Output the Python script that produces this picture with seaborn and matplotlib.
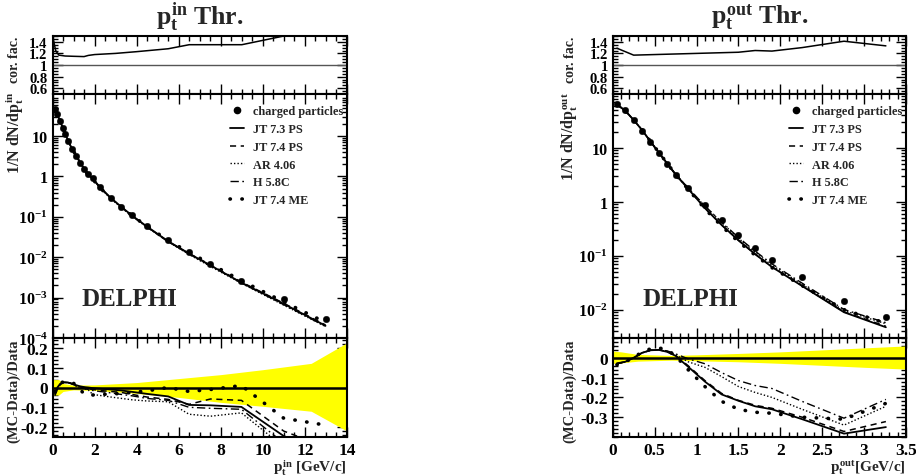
import numpy as np
import pandas as pd
import matplotlib
matplotlib.use("Agg")
import matplotlib.pyplot as plt
import seaborn as sns
from matplotlib.lines import Line2D
from matplotlib.ticker import MultipleLocator, FixedLocator, LogLocator, NullFormatter, FixedFormatter

# ---------------- p_t^in panel ----------------
pin_x = [0.12, 0.23, 0.36, 0.48, 0.61, 0.74, 0.91, 1.12, 1.31, 1.51, 1.70, 1.91,
         2.25, 2.76, 3.27, 3.78, 4.48, 5.50, 6.49, 7.51, 8.98, 10.99, 12.98]
pin_data = [48, 35, 23, 16, 11, 7.6, 4.9, 3.3, 2.2, 1.55, 1.12, 0.89,
            0.55, 0.30, 0.18, 0.11, 0.060, 0.026, 0.0135, 0.0069, 0.0026, 0.00093, 0.0003]
pin_r_jt73 = [-0.03, 0.0, 0.018, 0.025, 0.026, 0.025, 0.02, 0.012, 0.006, 0.002, 0.0, -0.003,
              -0.006, -0.01, -0.015, -0.022, -0.032, -0.045, -0.088, -0.09, -0.098, -0.245, -0.33]
pin_r_jt74 = [-0.035, -0.005, 0.015, 0.024, 0.027, 0.026, 0.02, 0.01, 0.004, 0.0, -0.005, -0.01,
              -0.015, -0.02, -0.025, -0.035, -0.048, -0.06, -0.085, -0.058, -0.065, -0.22, -0.30]
pin_r_ar = [-0.04, -0.01, 0.012, 0.022, 0.025, 0.024, 0.018, 0.008, 0.0, -0.006, -0.012, -0.035,
            -0.04, -0.048, -0.055, -0.062, -0.068, -0.072, -0.135, -0.145, -0.128, -0.30, -0.36]
pin_r_h = [-0.04, -0.008, 0.014, 0.023, 0.026, 0.025, 0.018, 0.008, 0.002, -0.004, -0.01, -0.015,
           -0.02, -0.027, -0.035, -0.042, -0.055, -0.065, -0.10, -0.105, -0.11, -0.28, -0.35]
pin_r_me = [-0.02, 0.005, 0.02, 0.027, 0.03, 0.03, 0.025, 0.015, -0.01, -0.033, -0.036, -0.038,
            -0.035, -0.033, -0.03, -0.025, -0.017, 0.0, -0.02, -0.01, 0.01, -0.155, -0.19]
pin_band_x = [0.0, 0.3, 0.5, 1.0, 2.0, 4.0, 6.0, 8.0, 10.0, 12.3, 14.0]
pin_band_hi = [0.04, 0.04, 0.02, 0.012, 0.013, 0.025, 0.045, 0.065, 0.09, 0.122, 0.226]
pin_band_lo = [-0.038, -0.038, -0.02, -0.012, -0.015, -0.03, -0.05, -0.075, -0.095, -0.12, -0.22]
pin_cor_x = [0.05, 0.15, 0.3, 0.6, 1.0, 1.5, 1.7, 2.0, 3.0, 4.0, 5.5, 6.5, 7.5, 9.0, 11.0, 13.0]
pin_cor = [1.42, 1.25, 1.17, 1.155, 1.15, 1.145, 1.165, 1.18, 1.2, 1.23, 1.28, 1.35, 1.35, 1.35, 1.5, 1.6]

# ---------------- p_t^out panel ----------------
pout_x = [0.05, 0.15, 0.25, 0.35, 0.45, 0.55, 0.65, 0.75, 0.90, 1.10, 1.30, 1.50,
          1.70, 1.90, 2.26, 2.76, 3.26]
pout_data = [66, 50, 33, 21, 12.7, 7.9, 5.0, 3.2, 1.83, 0.87, 0.457, 0.248,
             0.142, 0.084, 0.040, 0.0146, 0.0073]
pout_r_jt73 = [-0.028, -0.02, 0.0, 0.025, 0.038, 0.04, 0.03, 0.01, -0.045, -0.12, -0.185, -0.217,
               -0.245, -0.26, -0.31, -0.383, -0.35]
pout_r_jt74 = [-0.03, -0.02, 0.0, 0.025, 0.038, 0.04, 0.032, 0.012, -0.04, -0.115, -0.18, -0.215,
               -0.24, -0.255, -0.30, -0.372, -0.322]
pout_r_ar = [-0.03, -0.02, 0.0, 0.025, 0.038, 0.04, 0.032, 0.015, -0.02, -0.048, -0.095, -0.145,
             -0.175, -0.20, -0.26, -0.34, -0.245]
pout_r_h = [-0.03, -0.02, 0.0, 0.025, 0.038, 0.04, 0.035, 0.02, -0.005, -0.03, -0.075, -0.115,
            -0.14, -0.155, -0.22, -0.305, -0.21]
pout_r_me = [-0.035, -0.02, 0.0, 0.03, 0.045, 0.05, 0.04, 0.01, -0.06, -0.145, -0.22, -0.26,
             -0.275, -0.28, -0.30, -0.31, -0.23]
pout_band_x = [0.0, 0.1, 0.3, 0.7, 1.0, 1.5, 2.0, 2.5, 3.0, 3.5]
pout_band_hi = [0.034, 0.03, 0.017, 0.012, 0.015, 0.022, 0.03, 0.04, 0.05, 0.06]
pout_band_lo = [-0.028, -0.026, -0.017, -0.012, -0.015, -0.02, -0.028, -0.038, -0.048, -0.057]
pout_cor_x = [0.05, 0.25, 0.5, 1.0, 1.5, 1.7, 1.9, 2.26, 2.76, 3.26]
pout_cor = [1.29, 1.17, 1.18, 1.2, 1.22, 1.25, 1.24, 1.30, 1.41, 1.33]

gen_labels = ["JT 7.3 PS", "JT 7.4 PS", "AR 4.06", "H 5.8C", "JT 7.4 ME"]
gen_styles = [dict(linestyle="-", linewidth=1.3),
              dict(linestyle=(0, (4, 3)), linewidth=1.1),
              dict(linestyle=(0, (1, 1.5)), linewidth=1.0),
              dict(linestyle=(0, (6, 2.5, 1.2, 2.5)), linewidth=1.0),
              dict(linestyle=(0, (0.1, 3.2)), linewidth=2.6, dash_capstyle="round")]

sns.set_style("ticks")
plt.rcParams.update({
    "font.family": ["Liberation Serif", "DejaVu Serif"],
    "font.weight": "bold",
    "axes.labelweight": "bold",
    "mathtext.fontset": "custom",
    "mathtext.rm": "Liberation Serif:bold",
    "mathtext.it": "Liberation Serif:bold",
    "mathtext.bf": "Liberation Serif:bold",
    "axes.linewidth": 1.5,
    "axes.edgecolor": "black",
})

W, H = 916, 477
fig = plt.figure(figsize=(W / 100, H / 100), dpi=100)


def box(x0, x1, y0, y1):
    return [x0 / W, 1 - y1 / H, (x1 - x0) / W, (y1 - y0) / H]


def style_ticks(ax, size):
    ax.tick_params(which="both", direction="in", top=True, right=True, colors="black",
                   labelsize=size, width=1.0)
    ax.tick_params(which="major", length=7)
    ax.tick_params(which="minor", length=3.5)
    for lab in ax.get_xticklabels() + ax.get_yticklabels():
        lab.set_fontweight("bold")


def make_side(xl, xr, xs, data, ratios, band_x, band_lo, band_hi, cor_x, cor,
              xmax, xmajor, xminor, ylog_lim, logticks, loglabels, rlim, rticks, rlabels):
    # --- correction factor panel
    a1 = fig.add_axes(box(xl, xr, 37, 95))
    sns.lineplot(x=cor_x, y=cor, ax=a1, color="black", linewidth=1.1, estimator=None, sort=False)
    a1.axhline(1.0, color="#555555", linewidth=1.0)
    a1.set_xlim(0, xmax)
    a1.set_ylim(0.5, 1.5)
    a1.yaxis.set_major_locator(FixedLocator([0.6, 0.8, 1.0, 1.2, 1.4]))
    a1.yaxis.set_major_formatter(FixedFormatter(["0.6", "0.8", "1", "1.2", "1.4"]))
    a1.yaxis.set_minor_locator(MultipleLocator(0.05))
    a1.xaxis.set_major_locator(MultipleLocator(xmajor))
    a1.xaxis.set_minor_locator(MultipleLocator(xminor))
    a1.xaxis.set_major_formatter(NullFormatter())
    a1.set_xlabel("")
    a1.set_ylabel("")
    style_ticks(a1, 10.5)

    # --- spectrum panel
    a2 = fig.add_axes(box(xl, xr, 95, 339))
    for r, lab, st in zip(ratios, gen_labels, gen_styles):
        mc = [d * (1 + v) for d, v in zip(data, r)]
        sns.lineplot(x=xs, y=mc, ax=a2, color="black", estimator=None, sort=False, **st)
    sns.scatterplot(x=xs, y=data, ax=a2, color="black", s=22, edgecolor="black",
                    linewidth=0.3, zorder=5)
    a2.set_yscale("log")
    a2.set_xlim(0, xmax)
    a2.set_ylim(*ylog_lim)
    a2.yaxis.set_major_locator(FixedLocator(logticks))
    a2.yaxis.set_major_formatter(FixedFormatter(loglabels))
    a2.yaxis.set_minor_locator(LogLocator(base=10, subs=np.arange(2, 10)))
    a2.yaxis.set_minor_formatter(NullFormatter())
    a2.xaxis.set_major_locator(MultipleLocator(xmajor))
    a2.xaxis.set_minor_locator(MultipleLocator(xminor))
    a2.xaxis.set_major_formatter(NullFormatter())
    a2.set_xlabel("")
    a2.set_ylabel("")
    style_ticks(a2, 11.5)
    handles = [Line2D([], [], color="black", marker="o", linestyle="none", markersize=4.5)]
    handles += [Line2D([], [], color="black", **st) for st in gen_styles]
    leg = a2.legend(handles, ["charged particles"] + gen_labels, loc="upper right",
                    bbox_to_anchor=(1.0, 0.968), frameon=False, fontsize=8.8,
                    handlelength=1.1, handletextpad=0.75, labelspacing=0.47,
                    borderaxespad=0.1, borderpad=0.2)
    for t in leg.get_texts():
        t.set_fontweight("bold")
    a2.text(0.1, 0.16, "DELPHI", transform=a2.transAxes, fontsize=18,
            fontweight="bold", ha="left", va="center")

    # --- ratio panel
    a3 = fig.add_axes(box(xl, xr, 339, 438))
    a3.fill_between(band_x, band_lo, band_hi, color="#ffff00", linewidth=0, zorder=1)
    for r, st in zip(ratios, gen_styles):
        sns.lineplot(x=xs, y=r, ax=a3, color="black", estimator=None, sort=False, **st)
    a3.axhline(0.0, color="black", linewidth=1.8, zorder=4)
    a3.set_xlim(0, xmax)
    a3.set_ylim(*rlim)
    a3.yaxis.set_major_locator(FixedLocator(rticks))
    a3.yaxis.set_major_formatter(FixedFormatter(rlabels))
    a3.yaxis.set_minor_locator(MultipleLocator(0.02))
    a3.xaxis.set_major_locator(MultipleLocator(xmajor))
    a3.xaxis.set_minor_locator(MultipleLocator(xminor))
    a3.set_xlabel("")
    a3.set_ylabel("")
    style_ticks(a3, 12.5)
    return a1, a2, a3


l1, l2, l3 = make_side(52.5, 347, pin_x, pin_data,
                       [pin_r_jt73, pin_r_jt74, pin_r_ar, pin_r_h, pin_r_me],
                       pin_band_x, pin_band_lo, pin_band_hi, pin_cor_x, pin_cor,
                       14, 2, 0.5, (1e-4, 110),
                       [1e-4, 1e-3, 1e-2, 1e-1, 1, 10],
                       ["$10^{-4}$", "$10^{-3}$", "$10^{-2}$", "$10^{-1}$", "1", "10"],
                       (-0.25, 0.25), [-0.2, -0.1, 0, 0.1, 0.2],
                       ["-0.2", "-0.1", "0", "0.1", "0.2"])
l3.xaxis.set_major_locator(FixedLocator(list(range(0, 16, 2))))
l3.xaxis.set_major_formatter(FixedFormatter([str(v) for v in range(0, 16, 2)]))

r1, r2, r3 = make_side(612.7, 906, pout_x, pout_data,
                       [pout_r_jt73, pout_r_jt74, pout_r_ar, pout_r_h, pout_r_me],
                       pout_band_x, pout_band_lo, pout_band_hi, pout_cor_x, pout_cor,
                       3.5, 0.5, 0.1, (3e-3, 100),
                       [1e-2, 1e-1, 1, 10],
                       ["$10^{-2}$", "$10^{-1}$", "1", "10"],
                       (-0.4, 0.1), [-0.3, -0.2, -0.1, 0.0],
                       ["-0.3", "-0.2", "-0.1", "0"])
r3.xaxis.set_major_locator(FixedLocator([0, 0.5, 1, 1.5, 2, 2.5, 3, 3.5]))
r3.xaxis.set_major_formatter(FixedFormatter(["0", "0.5", "1", "1.5", "2", "2.5", "3", "3.5"]))
for a in (l3, r3):
    for lab in a.get_xticklabels() + a.get_yticklabels():
        lab.set_fontweight("bold")

# titles
fig.text(200 / W, 1 - 17 / H, r"$p_t^{in}$ Thr.", fontsize=18.5, fontweight="bold",
         ha="center", va="center")
fig.text(760 / W, 1 - 17 / H, r"$p_t^{out}$ Thr.", fontsize=18.5, fontweight="bold",
         ha="center", va="center")

# y-axis titles
for xc, sup in ((14, "in"), (570, "out")):
    fig.text(xc / W, 1 - 37 / H, "cor. fac.", rotation=90, fontsize=10,
             fontweight="bold", ha="center", va="top")
    fig.text(xc / W, 1 - 92 / H, "1/N dN/d$p_t^{%s}$" % sup, rotation=90, fontsize=11.5,
             fontweight="bold", ha="center", va="top")
    fig.text(xc / W, 1 - 340 / H, "(MC-Data)/Data", rotation=90, fontsize=10.5,
             fontweight="bold", ha="center", va="top")

# x-axis titles
fig.text(347 / W, 1 - 468 / H, r"$p_t^{in}$ [GeV/c]", fontsize=11, fontweight="bold",
         ha="right", va="center")
fig.text(906 / W, 1 - 468 / H, r"$p_t^{out}$[GeV/c]", fontsize=11, fontweight="bold",
         ha="right", va="center")

fig.savefig("out.png", dpi=100, facecolor="white")
